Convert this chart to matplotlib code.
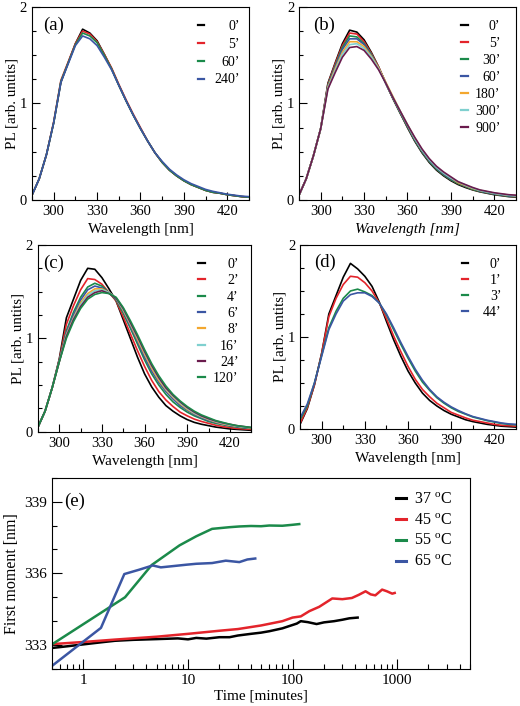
import matplotlib
matplotlib.use("Agg")
import matplotlib.pyplot as plt
from matplotlib.ticker import MultipleLocator, LogLocator, NullFormatter, FixedLocator

plt.rcParams['font.family'] = ['Liberation Serif', 'DejaVu Serif']
plt.rcParams['mathtext.fontset'] = 'custom'
plt.rcParams['mathtext.rm'] = 'Liberation Serif'

# ---- data -------------------------------------------------------------
wl = [285, 290, 295, 300, 305, 310, 315, 320, 325, 330, 335, 340, 345, 350, 355, 360,
      365, 370, 375, 380, 385, 390, 395, 400, 405, 410, 415, 420, 425, 430, 435]

# panel (a)
a_labels = ["0’", "5’", "60’", "240’"]
a_0 = [0.05, 0.22, 0.47, 0.80, 1.22, 1.42, 1.62, 1.77, 1.73, 1.65, 1.51, 1.36, 1.19, 1.03, 0.88, 0.74,
       0.61, 0.49, 0.39, 0.31, 0.25, 0.20, 0.16, 0.13, 0.10, 0.08, 0.07, 0.055, 0.045, 0.035, 0.03]
a_5 = [0.05, 0.22, 0.47, 0.81, 1.24, 1.43, 1.62, 1.75, 1.72, 1.64, 1.51, 1.37, 1.20, 1.04, 0.89, 0.75,
       0.61, 0.49, 0.39, 0.31, 0.25, 0.20, 0.16, 0.13, 0.10, 0.08, 0.07, 0.055, 0.045, 0.035, 0.03]
a_60 = [0.05, 0.22, 0.47, 0.80, 1.23, 1.42, 1.61, 1.73, 1.70, 1.63, 1.50, 1.36, 1.19, 1.03, 0.88, 0.74,
        0.61, 0.49, 0.39, 0.31, 0.25, 0.20, 0.16, 0.13, 0.10, 0.08, 0.07, 0.055, 0.045, 0.035, 0.03]
a_240 = [0.05, 0.22, 0.47, 0.80, 1.22, 1.41, 1.60, 1.70, 1.67, 1.60, 1.48, 1.35, 1.19, 1.03, 0.88, 0.74,
         0.61, 0.49, 0.40, 0.32, 0.26, 0.21, 0.17, 0.14, 0.11, 0.09, 0.075, 0.06, 0.05, 0.04, 0.035]

# panel (b)
b_labels = ["0’", "5’", "30’", "60’", "180’", "300’", "900’"]
b_0 = [0.05, 0.22, 0.46, 0.74, 1.21, 1.42, 1.62, 1.76, 1.74, 1.66, 1.53, 1.38, 1.21, 1.05, 0.90, 0.75,
       0.61, 0.49, 0.39, 0.31, 0.25, 0.20, 0.16, 0.13, 0.105, 0.085, 0.07, 0.055, 0.045, 0.035, 0.03]
b_5 = [0.05, 0.22, 0.46, 0.74, 1.20, 1.41, 1.60, 1.73, 1.72, 1.64, 1.52, 1.38, 1.21, 1.05, 0.90, 0.76,
       0.62, 0.50, 0.40, 0.32, 0.26, 0.21, 0.17, 0.14, 0.11, 0.09, 0.075, 0.06, 0.05, 0.04, 0.035]
b_30 = [0.05, 0.22, 0.46, 0.74, 1.19, 1.39, 1.58, 1.70, 1.69, 1.62, 1.51, 1.37, 1.21, 1.05, 0.90, 0.76,
        0.62, 0.50, 0.40, 0.32, 0.26, 0.21, 0.17, 0.14, 0.11, 0.09, 0.075, 0.06, 0.05, 0.04, 0.035]
b_60 = [0.05, 0.22, 0.46, 0.74, 1.18, 1.38, 1.56, 1.67, 1.67, 1.61, 1.50, 1.37, 1.21, 1.06, 0.91, 0.77,
        0.63, 0.51, 0.41, 0.33, 0.27, 0.22, 0.18, 0.145, 0.12, 0.095, 0.08, 0.065, 0.055, 0.045, 0.04]
b_180 = [0.05, 0.22, 0.46, 0.74, 1.17, 1.36, 1.53, 1.64, 1.64, 1.59, 1.49, 1.37, 1.22, 1.07, 0.92, 0.78,
         0.64, 0.52, 0.42, 0.34, 0.28, 0.23, 0.18, 0.15, 0.12, 0.10, 0.085, 0.07, 0.06, 0.05, 0.045]
b_300 = [0.05, 0.22, 0.46, 0.74, 1.16, 1.34, 1.51, 1.61, 1.62, 1.57, 1.48, 1.36, 1.21, 1.06, 0.92, 0.78,
         0.64, 0.52, 0.42, 0.34, 0.28, 0.23, 0.19, 0.155, 0.125, 0.10, 0.085, 0.07, 0.06, 0.05, 0.045]
b_900 = [0.05, 0.22, 0.46, 0.74, 1.15, 1.32, 1.48, 1.58, 1.59, 1.55, 1.46, 1.35, 1.21, 1.06, 0.92, 0.78,
         0.65, 0.53, 0.43, 0.35, 0.29, 0.24, 0.19, 0.16, 0.13, 0.105, 0.09, 0.075, 0.065, 0.055, 0.05]

# panel (c)
c_labels = ["0’", "2’", "4’", "6’", "8’", "16’", "24’", "120’"]
c_0 = [0.05, 0.22, 0.47, 0.78, 1.22, 1.42, 1.62, 1.75, 1.74, 1.65, 1.53, 1.40, 1.20, 1.00, 0.80, 0.62,
       0.48, 0.37, 0.28, 0.22, 0.17, 0.13, 0.10, 0.08, 0.065, 0.05, 0.04, 0.03, 0.025, 0.02, 0.015]
c_2 = [0.05, 0.22, 0.47, 0.77, 1.15, 1.35, 1.52, 1.64, 1.63, 1.58, 1.49, 1.40, 1.23, 1.05, 0.87, 0.70,
       0.55, 0.43, 0.34, 0.27, 0.21, 0.17, 0.135, 0.11, 0.09, 0.07, 0.055, 0.045, 0.035, 0.03, 0.025]
c_4 = [0.05, 0.22, 0.47, 0.76, 1.08, 1.28, 1.44, 1.55, 1.59, 1.56, 1.49, 1.41, 1.27, 1.11, 0.94, 0.77,
       0.62, 0.50, 0.40, 0.32, 0.26, 0.21, 0.17, 0.14, 0.11, 0.09, 0.075, 0.06, 0.05, 0.04, 0.035]
c_6 = [0.05, 0.22, 0.47, 0.76, 1.06, 1.25, 1.41, 1.52, 1.56, 1.54, 1.49, 1.42, 1.29, 1.13, 0.97, 0.80,
       0.65, 0.53, 0.43, 0.35, 0.28, 0.23, 0.185, 0.15, 0.12, 0.10, 0.08, 0.065, 0.055, 0.045, 0.04]
c_8 = [0.05, 0.22, 0.47, 0.75, 1.04, 1.22, 1.38, 1.48, 1.53, 1.53, 1.49, 1.43, 1.30, 1.15, 0.99, 0.83,
       0.68, 0.55, 0.45, 0.37, 0.30, 0.24, 0.195, 0.16, 0.13, 0.105, 0.085, 0.07, 0.06, 0.05, 0.04]
c_16 = [0.05, 0.22, 0.47, 0.75, 1.03, 1.21, 1.36, 1.46, 1.51, 1.52, 1.49, 1.43, 1.31, 1.16, 1.01, 0.85,
        0.70, 0.57, 0.46, 0.38, 0.31, 0.25, 0.20, 0.165, 0.135, 0.11, 0.09, 0.075, 0.06, 0.05, 0.045]
c_24 = [0.05, 0.22, 0.47, 0.75, 1.02, 1.20, 1.34, 1.44, 1.49, 1.51, 1.48, 1.43, 1.32, 1.17, 1.02, 0.86,
        0.71, 0.58, 0.47, 0.39, 0.32, 0.26, 0.21, 0.17, 0.14, 0.115, 0.095, 0.08, 0.065, 0.055, 0.045]
c_120 = [0.05, 0.22, 0.47, 0.75, 1.00, 1.18, 1.32, 1.42, 1.47, 1.49, 1.48, 1.44, 1.33, 1.19, 1.04, 0.88,
         0.73, 0.60, 0.49, 0.40, 0.33, 0.27, 0.22, 0.18, 0.15, 0.12, 0.10, 0.08, 0.065, 0.055, 0.045]

# panel (d)
d_labels = ["0’", "1’", "3’", "44’"]
d_0 = [0.05, 0.22, 0.48, 0.82, 1.25, 1.45, 1.65, 1.80, 1.74, 1.66, 1.55, 1.38, 1.17, 0.97, 0.79, 0.63,
       0.50, 0.39, 0.31, 0.25, 0.20, 0.16, 0.13, 0.10, 0.08, 0.065, 0.05, 0.04, 0.03, 0.025, 0.02]
d_1 = [0.06, 0.23, 0.48, 0.82, 1.22, 1.42, 1.57, 1.66, 1.65, 1.59, 1.50, 1.37, 1.20, 1.01, 0.84, 0.68,
       0.54, 0.43, 0.35, 0.28, 0.23, 0.18, 0.15, 0.12, 0.095, 0.08, 0.065, 0.05, 0.04, 0.035, 0.03]
d_3 = [0.10, 0.25, 0.50, 0.80, 1.10, 1.28, 1.42, 1.50, 1.52, 1.49, 1.45, 1.37, 1.24, 1.08, 0.92, 0.77,
       0.63, 0.51, 0.42, 0.34, 0.28, 0.23, 0.19, 0.16, 0.13, 0.11, 0.09, 0.075, 0.06, 0.05, 0.045]
d_44 = [0.12, 0.27, 0.50, 0.79, 1.08, 1.25, 1.39, 1.46, 1.48, 1.48, 1.44, 1.37, 1.25, 1.10, 0.94, 0.79,
        0.65, 0.53, 0.43, 0.35, 0.29, 0.24, 0.20, 0.165, 0.135, 0.115, 0.095, 0.08, 0.065, 0.055, 0.05]

# panel (e): first moment vs time
e_labels = [r"37 $^{\rm o}$C", r"45 $^{\rm o}$C", r"55 $^{\rm o}$C", r"65 $^{\rm o}$C"]
t37 = [0.5, 0.7, 1, 1.5, 2, 3, 5, 8, 10, 12, 15, 20, 25, 30, 40, 50, 60, 80, 100, 110, 120,
       140, 170, 200, 250, 300, 350, 420]
m37 = [332.88, 332.95, 333.03, 333.12, 333.18, 333.22, 333.25, 333.28, 333.24, 333.3, 333.27, 333.33,
       333.33, 333.4, 333.47, 333.52, 333.58, 333.7, 333.84, 333.9, 334.0, 333.96, 333.88, 333.95,
       334.0, 334.06, 334.12, 334.15]
t45 = [0.5, 1, 2, 5, 10, 20, 30, 50, 80, 100, 120, 145, 180, 240, 300, 370, 430, 500, 560,
       620, 720, 800, 900, 950]
m45 = [333.04, 333.13, 333.23, 333.35, 333.47, 333.6, 333.67, 333.82, 334.0, 334.15, 334.2, 334.42,
       334.6, 334.95, 334.92, 334.97, 335.1, 335.25, 335.12, 335.08, 335.32, 335.25, 335.15, 335.18]
t55 = [0.5, 2.5, 4.5, 8.3, 12, 17, 25, 31, 40, 50, 60, 80, 100, 116]
m55 = [333.03, 335.0, 336.35, 337.17, 337.55, 337.86, 337.93, 337.96, 337.98, 337.97, 338.0, 337.99,
       338.03, 338.06]
t65 = [0.5, 1.47, 2.46, 3.4, 4.6, 5.5, 7.1, 9.6, 12, 17, 23, 31, 37, 44]
m65 = [332.13, 333.72, 335.97, 336.15, 336.33, 336.25, 336.3, 336.36, 336.4, 336.43, 336.53, 336.47,
       336.58, 336.62]

grace = ['black', '#e3242b', '#1b8a4a', '#3b56a3', '#f3a72e', '#7fd0cf', '#6a1b4d', '#1b8a4a']

fig = plt.figure(figsize=(5.2, 7.06), dpi=100)


def spectra(rect, series, labels, tag, tag_x, italic=False,
            anchor=(0.97, 0.96), lspace=0.3, tpad=0.7):
    ax = fig.add_axes(rect)
    for ys, lab, c in zip(series, labels, grace):
        ax.plot(wl, ys, color=c, lw=1.2, label=lab)
    ax.set_xlim(285, 435)
    ax.set_ylim(0, 2)
    ax.xaxis.set_major_locator(FixedLocator([300, 330, 360, 390, 420]))
    ax.xaxis.set_minor_locator(MultipleLocator(15))
    ax.yaxis.set_major_locator(MultipleLocator(1))
    ax.yaxis.set_minor_locator(MultipleLocator(0.25))
    ax.tick_params(which='both', direction='in', labelsize=10.5, top=False, right=False)
    ax.tick_params(which='major', length=5.5, width=0.8)
    ax.tick_params(which='minor', length=3, width=0.8)
    ax.set_ylabel("PL [arb. untits]", fontsize=10.8, labelpad=1)
    ax.set_xlabel("Wavelength [nm]", fontsize=11, labelpad=4,
                  style='italic' if italic else 'normal')
    for s in ax.spines.values():
        s.set_linewidth(0.8)
    ax.text(tag_x, 0.95, tag, transform=ax.transAxes, fontsize=13.5, va='top', ha='left')
    leg = ax.legend(loc='upper right', bbox_to_anchor=anchor, frameon=False, fontsize=10,
                    handlelength=0.45, handletextpad=tpad, labelspacing=lspace, borderaxespad=0)
    for h in leg.get_lines():
        h.set_linewidth(1.6)
    return ax, leg


legs = []
ax_a, l = spectra([0.0615, 0.7167, 0.4173, 0.2734], [a_0, a_5, a_60, a_240], a_labels, "(a)", 0.05,
                  anchor=(0.984, 0.96), lspace=0.34, tpad=0.76)
legs.append(l)
ax_b, l = spectra([0.575, 0.7167, 0.4173, 0.2734], [b_0, b_5, b_30, b_60, b_180, b_300, b_900],
                  b_labels, "(b)", 0.063, italic=True, anchor=(0.954, 0.96), lspace=0.28, tpad=0.53)
legs.append(l)
ax_c, l = spectra([0.073, 0.3885, 0.41, 0.2645], [c_0, c_2, c_4, c_6, c_8, c_16, c_24, c_120],
                  c_labels, "(c)", 0.025, anchor=(0.967, 0.96), lspace=0.24, tpad=0.6)
legs.append(l)
ax_d, l = spectra([0.577, 0.3924, 0.4154, 0.2606], [d_0, d_1, d_3, d_44], d_labels, "(d)", 0.065,
                  anchor=(0.958, 0.96), lspace=0.22, tpad=1.08)
legs.append(l)

# panel (e)
ax_e = fig.add_axes([0.1, 0.0524, 0.804, 0.271])
for t, m, lab, c in zip([t37, t45, t55, t65], [m37, m45, m55, m65], e_labels, grace[:4]):
    ax_e.plot(t, m, color=c, lw=1.8, label=lab)
ax_e.set_xscale('log')
ax_e.set_xlim(0.5, 5000)
ax_e.set_ylim(332, 340)
ax_e.xaxis.set_minor_locator(LogLocator(base=10, subs=range(2, 10), numticks=20))
ax_e.xaxis.set_minor_formatter(NullFormatter())
ax_e.set_xticks([1, 10, 100, 1000])
ax_e.set_xticklabels(["1", "10", "100", "1000"])
ax_e.yaxis.set_major_locator(FixedLocator([333, 336, 339]))
ax_e.yaxis.set_minor_locator(MultipleLocator(1))
ax_e.tick_params(which='both', direction='in', labelsize=11, top=False, right=False)
ax_e.tick_params(which='major', length=7, width=0.8)
ax_e.tick_params(which='minor', length=3.5, width=0.8)
for s in ax_e.spines.values():
    s.set_linewidth(0.8)
ax_e.set_xlabel("Time [minutes]", fontsize=11, labelpad=2)
ax_e.set_ylabel("First moment [nm]", fontsize=11.5, labelpad=3)
ax_e.text(0.03, 0.92, "(e)", transform=ax_e.transAxes, fontsize=13.5, va='top', ha='left')
leg_e = ax_e.legend(loc='upper left', bbox_to_anchor=(0.808, 0.96), frameon=False, fontsize=11.5,
                    handlelength=0.6, handletextpad=0.5, labelspacing=0.3, borderaxespad=0)
for h in leg_e.get_lines():
    h.set_linewidth(2.2)

# right-align the time labels in the spectrum legends, like the original
fig.canvas.draw()
for leg in legs:
    texts = leg.get_texts()
    widths = [t.get_window_extent().width for t in texts]
    wmax = max(widths)
    for t, w in zip(texts, widths):
        t.set_position((wmax - w, 0))

fig.savefig("out.png", dpi=100)
